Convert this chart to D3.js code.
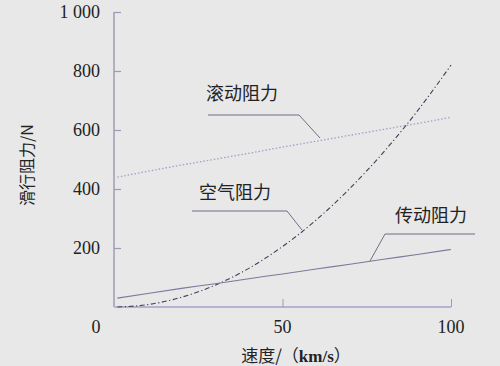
<!DOCTYPE html>
<html><head><meta charset="utf-8">
<script src="https://cdn.jsdelivr.net/npm/d3@7"></script>
<style>body{margin:0;background:#e8e8e8;}svg{display:block;}</style>
</head><body>
<script>
const speeds = [0,10,20,30,40,50,60,70,80,90,100];
const rolling = [440,460,481,501,521,542,562,582,602,622,643];
const air = [0,8,33,74,131,205,295,402,525,664,820];
const transmission = [30,46,63,79,96,112,129,145,162,178,195];
const yTicks = [200,400,600,800,1000];
const yTickLabels = ["200","400","600","800","1 000"];
const xTicks = [50,100];
const xTickLabels = ["50","100"];
const labels = ["滚动阻力","空气阻力","传动阻力"];

const W=500,H=366;
const svg=d3.select("body").append("svg").attr("width",W).attr("height",H);
svg.append("rect").attr("width",W).attr("height",H).attr("fill","#e8e8e8");
const x=d3.scaleLinear().domain([0,100]).range([114,451]);
const y=d3.scaleLinear().domain([0,1000]).range([307,12]);
const serif="'Liberation Serif','Times New Roman','Noto Sans CJK SC',serif";
const cjk="'Noto Sans CJK SC',sans-serif";

// axes
const yAx=svg.append("g").attr("transform","translate(114,0)")
 .call(d3.axisRight(y).tickValues(yTicks).tickSize(7).tickFormat(""));
yAx.select(".domain").attr("stroke","#8a8aa6").attr("stroke-width",1.2).attr("d","M0,12V307");
yAx.selectAll(".tick line").attr("stroke","#9a9ab8").attr("stroke-width",1.2);
const xAx=svg.append("g").attr("transform","translate(0,307)")
 .call(d3.axisTop(x).tickValues(xTicks).tickSize(8).tickFormat(""));
xAx.select(".domain").attr("stroke","#b4b4d2").attr("stroke-width",2).attr("d","M114,0H451");
xAx.selectAll(".tick line").attr("stroke","#9a9ab8").attr("stroke-width",1);

svg.selectAll(".ytl").data(yTicks).enter().append("text")
 .attr("x",100).attr("y",d=>y(d)+6).attr("text-anchor","end")
 .attr("font-family",serif).attr("font-size",18).attr("fill","#222")
 .text((d,i)=>yTickLabels[i]);
svg.selectAll(".xtl").data(xTicks).enter().append("text")
 .attr("x",d=>x(d)).attr("y",333).attr("text-anchor","middle")
 .attr("font-family",serif).attr("font-size",18).attr("fill","#222")
 .text((d,i)=>xTickLabels[i]);
svg.append("text").attr("x",96).attr("y",333).attr("text-anchor","middle")
 .attr("font-family",serif).attr("font-size",18).attr("fill","#222").text("0");

// titles
svg.append("text").attr("transform","translate(33,165) rotate(-90)")
 .attr("text-anchor","middle").attr("font-family",cjk).attr("font-size",16).attr("fill","#222")
 .text("滑行阻力/N");
const xt=svg.append("text").attr("x",296).attr("y",362).attr("text-anchor","middle")
 .attr("font-size",17).attr("fill","#222");
xt.append("tspan").attr("font-family",cjk).text("速度/（");
xt.append("tspan").attr("font-family",serif).attr("font-weight","bold").text("km/s");
xt.append("tspan").attr("font-family",cjk).text("）");

// data lines
const pts=v=>speeds.map((s,i)=>[s,v[i]]).filter(d=>d[0]>=1||true);
const line=d3.line().x(d=>x(Math.max(d[0],1))).y(d=>y(d[1])).curve(d3.curveMonotoneX);
svg.append("path").attr("d",line(pts(rolling))).attr("fill","none")
 .attr("stroke","#a0a0c4").attr("stroke-width",1.3).attr("stroke-dasharray","1.5,2");
svg.append("path").attr("d",line(pts(air))).attr("fill","none")
 .attr("stroke","#404058").attr("stroke-width",1.1).attr("stroke-dasharray","5,2.5,1.2,2.5");
svg.append("path").attr("d",line(pts(transmission))).attr("fill","none")
 .attr("stroke","#7a7a9c").attr("stroke-width",1.1);

// leader lines and labels
const leaders=[
 [[208,115],[299,115],[320,138]],
 [[192,211],[287,211],[302,230]],
 [[475,234],[385,234],[370,261]]
];
svg.selectAll(".leader").data(leaders).enter().append("path")
 .attr("d",d=>d3.line()(d)).attr("fill","none").attr("stroke","#6e6e88").attr("stroke-width",1);
const labelPos=[[242,100],[235,199],[431,222]];
svg.selectAll(".lbl").data(labels).enter().append("text")
 .attr("x",(d,i)=>labelPos[i][0]).attr("y",(d,i)=>labelPos[i][1])
 .attr("text-anchor","middle").attr("font-family",cjk).attr("font-size",18).attr("fill","#222")
 .text(d=>d);
</script>
</body></html>
